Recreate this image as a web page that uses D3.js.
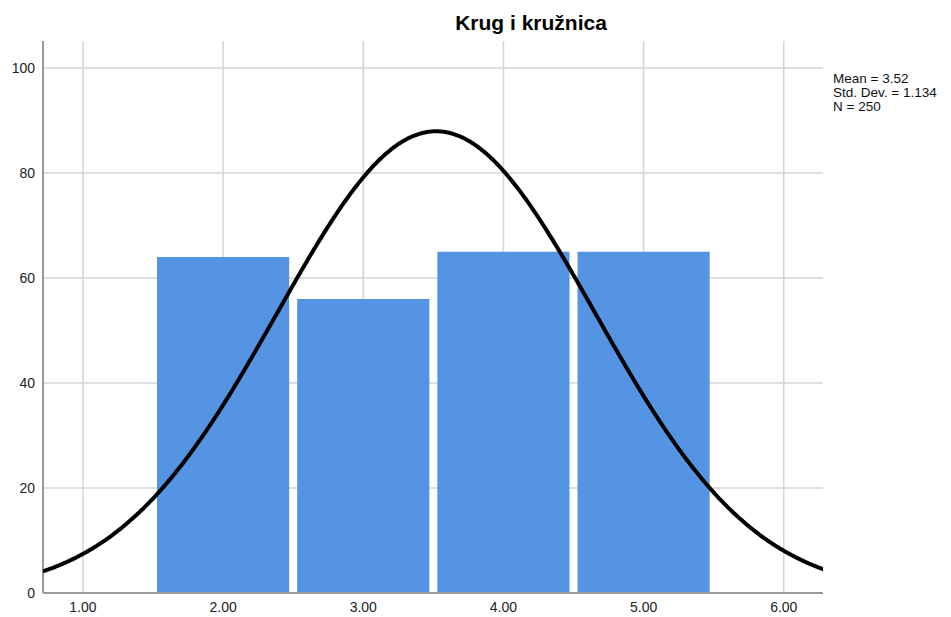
<!DOCTYPE html>
<html><head><meta charset="utf-8">
<script src="https://cdn.jsdelivr.net/npm/d3@7"></script>
<style>body{margin:0;background:#fff;} svg{display:block;font-family:"Liberation Sans",Arial,sans-serif;}</style>
</head><body>
<svg id="c" width="951" height="617"></svg>
<script>
const binCenters = [2, 3, 4, 5];
const binCounts = [64, 56, 65, 65];
const binWidth = 1;
const xTicks = [1, 2, 3, 4, 5, 6];
const yTicks = [0, 20, 40, 60, 80, 100];
const stats = {mean: 3.52, sd: 1.134, n: 250};
const statLabels = ["Mean = 3.52", "Std. Dev. = 1.134", "N = 250"];
const title = "Krug i kružnica";

const svg = d3.select("#c");
const L = 43, R = 823, T = 41, B = 593;
const x = d3.scaleLinear().domain([0.715, 6.28]).range([L, R]);
const y = d3.scaleLinear().domain([0, 100]).range([B, 68]);

// gridlines
svg.append("g").selectAll("line").data(yTicks.filter(d=>d>0)).join("line")
  .attr("x1", L).attr("x2", R).attr("y1", d=>y(d)).attr("y2", d=>y(d))
  .attr("stroke", "#d4d4d4").attr("stroke-width", 1.5);
svg.append("g").selectAll("line").data(xTicks).join("line")
  .attr("x1", d=>x(d)).attr("x2", d=>x(d)).attr("y1", T).attr("y2", B)
  .attr("stroke", "#d4d4d4").attr("stroke-width", 1.5);

// bars
svg.append("g").selectAll("rect").data(binCenters).join("rect")
  .attr("x", (d)=>x(d - binWidth/2) + 4)
  .attr("width", (d)=>x(d + binWidth/2) - x(d - binWidth/2) - 8)
  .attr("y", (d,i)=>y(binCounts[i]))
  .attr("height", (d,i)=>B - y(binCounts[i]))
  .attr("fill", "#5594e2");

// axes lines
svg.append("line").attr("x1", L).attr("x2", L).attr("y1", T).attr("y2", B)
  .attr("stroke", "#999").attr("stroke-width", 2);
svg.append("line").attr("x1", L).attr("x2", R).attr("y1", B).attr("y2", B)
  .attr("stroke", "#999").attr("stroke-width", 2);

// normal curve
svg.append("clipPath").attr("id","cp").append("rect").attr("x", L).attr("y", T).attr("width", R-L).attr("height", B-T);
const xs = d3.range(0.715, 6.29, 0.01);
const pdf = v => stats.n * binWidth / (stats.sd*Math.sqrt(2*Math.PI)) * Math.exp(-0.5*Math.pow((v-stats.mean)/stats.sd, 2));
svg.append("path").datum(xs).attr("clip-path","url(#cp)")
  .attr("d", d3.line().x(d=>x(d)).y(d=>y(pdf(d))).curve(d3.curveBasis))
  .attr("fill","none").attr("stroke","#000").attr("stroke-width",4);

// tick labels
svg.append("g").selectAll("text").data(yTicks).join("text")
  .attr("x", 35).attr("y", d=>y(d)).attr("dy","0.35em").attr("text-anchor","end")
  .attr("font-size", 14).attr("fill","#222").text(d=>d);
svg.append("g").selectAll("text").data(xTicks).join("text")
  .attr("x", d=>x(d)).attr("y", 612).attr("text-anchor","middle")
  .attr("font-size", 14).attr("fill","#222").text(d=>d3.format(".2f")(d));

// title
svg.append("text").attr("x", 531).attr("y", 30).attr("text-anchor","middle")
  .attr("font-size", 21).attr("font-weight","bold").attr("fill","#000").text(title);

// stats
svg.append("g").selectAll("text").data(statLabels).join("text")
  .attr("x", 833).attr("y", (d,i)=>82.5 + i*14).attr("font-size", 13.5).attr("fill","#111").text(d=>d);
</script>
</body></html>
